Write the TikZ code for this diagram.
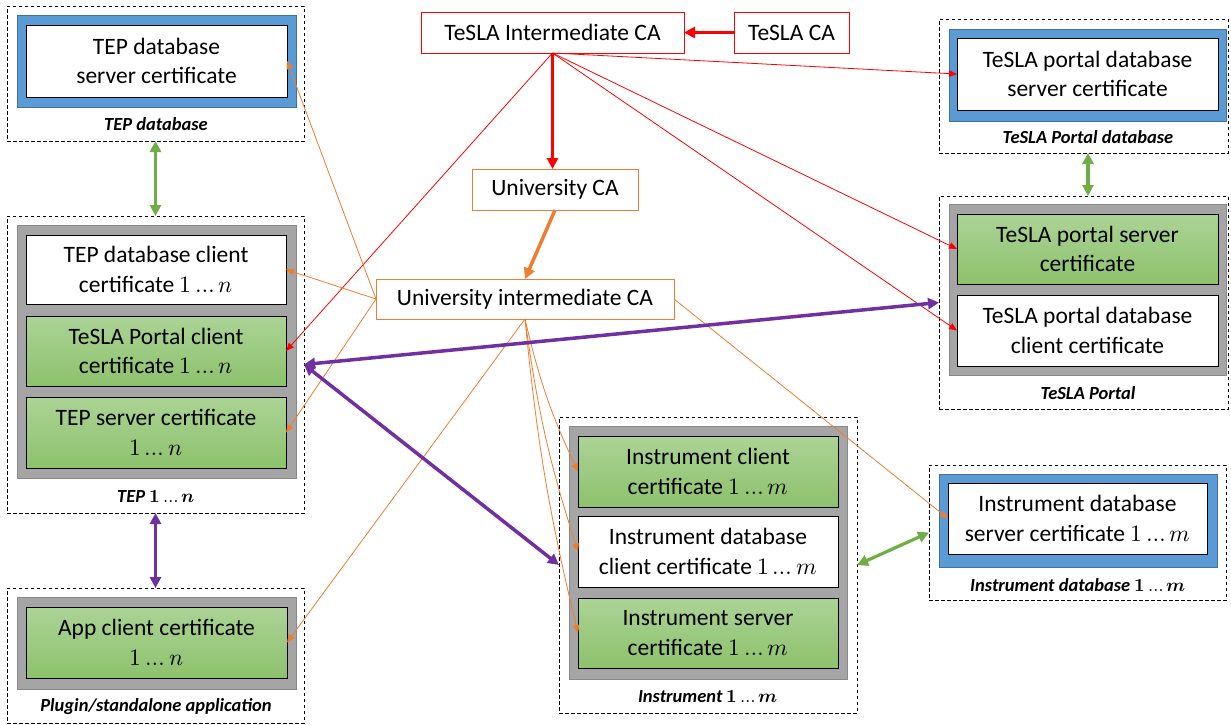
\documentclass[tikz,border=0pt]{standalone}
\usepackage{fontspec}
\usepackage{unicode-math}
\setmainfont{Carlito}
\usetikzlibrary{arrows.meta}
\definecolor{blueF}{RGB}{91,155,213}
\definecolor{blueD}{RGB}{65,113,156}
\definecolor{grayF}{RGB}{165,165,165}
\definecolor{grayD}{RGB}{137,137,137}
\definecolor{greenT}{RGB}{172,211,150}
\definecolor{greenB}{RGB}{141,194,108}
\definecolor{orangeC}{RGB}{237,125,49}
\definecolor{redC}{RGB}{255,0,0}
\definecolor{purpleC}{RGB}{112,48,160}
\definecolor{greenA}{RGB}{112,173,71}
\newcommand{\rng}[1]{$1\,{\ldots}\,#1$}
\newcommand{\brng}[1]{$\symbf{1}\,{\ldots}\,\symbfit{#1}$}
\tikzset{
  base/.style={inner sep=0pt, outer sep=0pt, align=center, font=\fontsize{23.5}{29.5}\selectfont},
  outerbox/.style={base, draw=black, dash pattern=on 3.5pt off 2.5pt, line width=0.9pt},
  bluebox/.style={base, draw=blueD, fill=blueF, line width=0.8pt},
  graybox/.style={base, draw=grayD, fill=grayF, line width=0.8pt},
  certw/.style={base, draw=black, fill=white, line width=0.9pt},
  certg/.style={base, draw=black, top color=greenT, bottom color=greenB, line width=0.9pt},
  lbl/.style={base, font=\fontsize{18.5}{22}\selectfont\bfseries\itshape},
  redbox/.style={base, draw=redC, fill=white, line width=0.9pt},
  orbox/.style={base, draw=orangeC, fill=white, line width=0.9pt},
  thinred/.style={draw=redC, line width=0.8pt, -{Triangle[length=8pt,width=6.5pt]}},
  thinor/.style={draw=orangeC, line width=0.8pt, -{Triangle[length=8pt,width=6.5pt]}},
  thickred/.style={draw=redC, line width=3.5pt, -{Triangle[length=11pt,width=11pt]}},
  thickor/.style={draw=orangeC, line width=3.5pt, -{Triangle[length=11pt,width=11pt]}},
  dblpurple/.style={draw=purpleC, line width=3.5pt, {Triangle[length=11pt,width=11pt]}-{Triangle[length=11pt,width=11pt]}},
  dblgreen/.style={draw=greenA, line width=3.2pt, {Triangle[length=11pt,width=11pt]}-{Triangle[length=11pt,width=11pt]}},
}
\begin{document}
\begin{tikzpicture}[x=1pt,y=-1pt]
\useasboundingbox (0,0) rectangle (1231,724);

% TEP database
\node[outerbox, minimum width=297pt, minimum height=135pt] (tepdbo) at (155.5,73.5) {};
\node[bluebox, minimum width=279pt, minimum height=92pt] (tepdbb) at (156.5,61) {};
\node[certw, minimum width=261pt, minimum height=72pt] (tepdbs) at (156.5,61) {TEP database\\server certificate};
\node[lbl] (tepdbl) at (156,124) {TEP database};

% TEP
\node[outerbox, minimum width=297pt, minimum height=297pt] (tepo) at (155.5,364.5) {};
\node[graybox, minimum width=279pt, minimum height=253pt] (tepg) at (156.5,351.5) {};
\node[certw, minimum width=260pt, minimum height=69pt] (tepdbc) at (156,269.5) {TEP database client\\certificate \rng{n}};
\node[certg, minimum width=260pt, minimum height=70pt] (tepportal) at (156,351) {TeSLA Portal client\\certificate \rng{n}};
\node[certg, minimum width=260pt, minimum height=71pt] (tepserver) at (156,432.5) {TEP server certificate\\\rng{n}};
\node[lbl] (tepl) at (156,497) {TEP \brng{n}};

% Plugin
\node[outerbox, minimum width=297pt, minimum height=135pt] (plugo) at (155.5,655.5) {};
\node[graybox, minimum width=279pt, minimum height=92pt] (plugg) at (156.5,643) {};
\node[certg, minimum width=261pt, minimum height=71pt] (app) at (156.5,642.5) {App client certificate\\\rng{n}};
\node[lbl] (plugl) at (156,707) {Plugin/standalone application};

% CAs
\node[redbox, minimum width=263pt, minimum height=41pt] (tic) at (552.5,32.5) {TeSLA Intermediate CA};
\node[redbox, minimum width=115pt, minimum height=41pt] (tca) at (791.5,32.5) {TeSLA CA};
\node[orbox, minimum width=166pt, minimum height=41pt] (uca) at (555,189.5) {University CA};
\node[orbox, minimum width=298pt, minimum height=40pt] (uica) at (525,299) {University intermediate CA};

% TeSLA Portal database
\node[outerbox, minimum width=289pt, minimum height=134pt] (tpdbo) at (1083.5,86) {};
\node[bluebox, minimum width=277pt, minimum height=92pt] (tpdbb) at (1087.5,75) {};
\node[certw, minimum width=261pt, minimum height=72pt] (tpdbs) at (1087.5,74) {TeSLA portal database\\server certificate};
\node[lbl] (tpdbl) at (1088,137) {TeSLA Portal database};

% TeSLA Portal
\node[outerbox, minimum width=289pt, minimum height=213pt] (tpo) at (1083.5,302.5) {};
\node[graybox, minimum width=277pt, minimum height=171pt] (tpg) at (1087.5,289.5) {};
\node[certg, minimum width=261pt, minimum height=70pt] (tps) at (1087.5,249) {TeSLA portal server\\certificate};
\node[certw, minimum width=261pt, minimum height=71pt] (tpc) at (1087.5,330.5) {TeSLA portal database\\client certificate};
\node[lbl] (tpl) at (1088,393) {TeSLA Portal};

% Instrument
\node[outerbox, minimum width=298pt, minimum height=296pt] (insto) at (708,565) {};
\node[graybox, minimum width=278pt, minimum height=253pt] (instg) at (708,552.5) {};
\node[certg, minimum width=260pt, minimum height=71pt] (instc) at (708,471.5) {Instrument client\\certificate \rng{m}};
\node[certw, minimum width=260pt, minimum height=71pt] (instdbc) at (708,551.5) {Instrument database\\client certificate \rng{m}};
\node[certg, minimum width=260pt, minimum height=70pt] (insts) at (708,633) {Instrument server\\certificate \rng{m}};
\node[lbl] (instl) at (708,697) {Instrument \brng{m}};

% Instrument database
\node[outerbox, minimum width=297pt, minimum height=135pt] (idbo) at (1077.5,532.5) {};
\node[bluebox, minimum width=278pt, minimum height=93pt] (idbb) at (1078,520.5) {};
\node[certw, minimum width=259pt, minimum height=71pt] (idbs) at (1077.5,518.5) {Instrument database\\server certificate \rng{m}};
\node[lbl] (idbl) at (1078,585) {Instrument database \brng{m}};

% thick CA arrows
\draw[thickred] (tca.west) -- (tic.east);
\draw[thickred] (tic.south) -- (uca.north -| tic.south);
\draw[thickor] (uca.south) -- (uica.north);

% thin red arrows
\draw[thinred] (tic.south) -- (tepportal.east);
\draw[thinred] (tic.south) -- (tpdbs.west);
\draw[thinred] (tic.south) -- (tps.west);
\draw[thinred] (tic.south) -- (tpc.west);

% thin orange arrows
\draw[thinor] (uica.west) -- (tepdbs.east);
\draw[thinor] (uica.west) -- (tepdbc.east);
\draw[thinor] (uica.west) -- (tepserver.east);
\draw[thinor] (uica.south) -- (app.east);
\draw[thinor] (uica.south) to[bend right=6] (instc.west);
\draw[thinor] (uica.south) to[bend right=5] (instdbc.west);
\draw[thinor] (uica.south) to[bend right=4] (insts.west);
\draw[thinor] (uica.east) -- (idbs.west);

% purple double arrows
\draw[dblpurple] (tepo.east) -- (tpo.west);
\draw[dblpurple] (tepo.east) -- (insto.west);
\draw[dblpurple] (tepo.south) -- (plugo.north);

% green double arrows
\draw[dblgreen] (tepdbo.south) -- (tepo.north);
\draw[dblgreen] ([xshift=4.5pt]tpdbo.south) -- ([xshift=4.5pt]tpo.north);
\draw[dblgreen] (insto.east) -- (idbo.west);
\end{tikzpicture}
\end{document}
